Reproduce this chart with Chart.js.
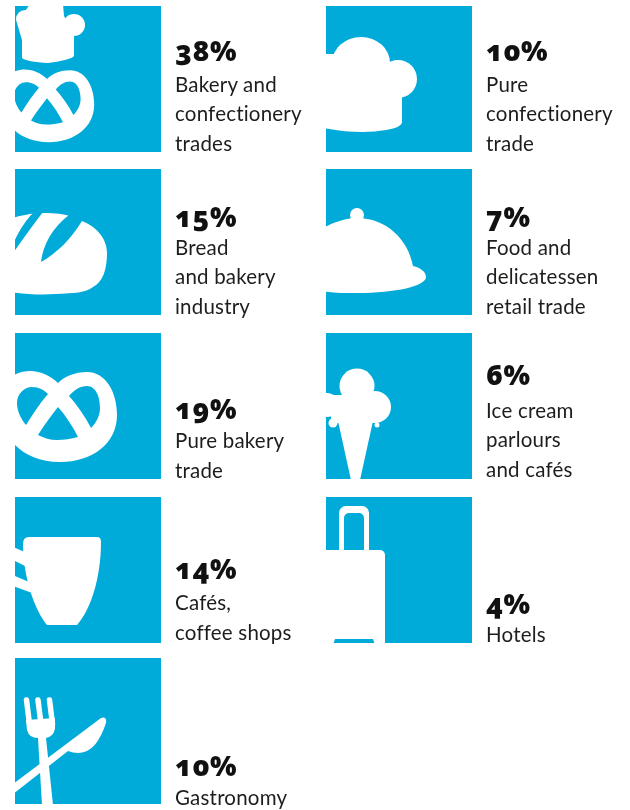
<!DOCTYPE html>
<html>
<head>
<meta charset="utf-8">
<title>Customer groups</title>
<script src="https://cdn.jsdelivr.net/npm/chart.js@4"></script>
<style>
  html, body { margin: 0; background: #fff; }
  #wrap { position: relative; width: 630px; height: 810px; overflow: hidden; }
  #chart { position: absolute; left: 0; top: 0; }
  .tile-label { position: absolute; color: #1d1d1b; font-family: Lato, sans-serif; font-size: 20.5px; line-height: 29.5px; white-space: nowrap; letter-spacing: .2px; }
  .tile-label .pct { position: relative; font-family: "Open Sans", sans-serif; font-weight: 800; font-size: 28px; line-height: 36px; color: #111; font-feature-settings: "onum"; letter-spacing: .5px; }
</style>
</head>
<body>
<div id="wrap"><canvas id="chart" width="630" height="810"></canvas></div>
<script>
const shares = [38, 15, 19, 14, 10, 10, 7, 6, 4];
const categories = [
  ["Bakery and", "confectionery", "trades"],
  ["Bread", "and bakery", "industry"],
  ["Pure bakery", "trade"],
  ["Cafés,", "coffee shops"],
  ["Gastronomy"],
  ["Pure", "confectionery", "trade"],
  ["Food and", "delicatessen", "retail trade"],
  ["Ice cream", "parlours", "and cafés"],
  ["Hotels"],
];
const tileCol = [0, 0, 0, 0, 0, 1, 1, 1, 1];
const tileRow = [0, 1, 2, 3, 4, 0, 1, 2, 3];
const iconNames = ["hatPretzel", "bread", "pretzel", "cup", "cutlery", "hat", "cloche", "icecream", "suitcase"];

const TILE = 146, BLUE = "#00abd9", WHITE = "#fff";
// the rows in the original are not quite evenly spaced (px)
const ROW_NUDGE = [0, 0, 1, 2, 0];
// small per-label offsets (px), the captions don't sit on one rule in the original
const LABEL_LIFT = [0, 0, 0, 2, -2, 0, 0, 1, 0];
const PCT_SHIFT = [-2, 1, 0, -2, 0, -2, 1, -4, 1];

function circle(c, x, y, r) { c.beginPath(); c.arc(x, y, r, 0, Math.PI * 2); c.fill(); }

function hat(c) {
  c.beginPath(); c.ellipse(35, 57, 29, 26, 0, 0, Math.PI * 2); c.fill();
  circle(c, 72, 73, 19);
  c.fill(new Path2D("M-3,48 L10,48 L60,60 L76,80 L76,117 Q74,122 60,124 Q34,129 -3,122 Z"));
}

function smallHat(c) {
  circle(c, 10, 13, 9);
  circle(c, 59, 19, 11);
  c.fill(new Path2D("M15,-2 L48,-2 L49,10 L59,28 L59,50 Q56,54 33,57 Q12,56 7,52 L7,34 L2,17 Z"));
}

const PRETZEL = "M-10,48 C0,40 8,38 15,38 C26,38 36,43 43,50 C50,43 60,39 72,39 C90,39 102,58 102,82 C102,110 78,129 45,129 C25,129 10,122 0,112 L-10,100 Z " +
  "M17,54 C24,54 29,57 33,61 C25,70 18,81 11,92 C6,86 2,78 2,70 C2,61 9,54 17,54 Z " +
  "M72,53 C81,53 85,64 85,75 C85,83 81,90 76,95 C70,83 62,72 54,63 C59,57 65,53 72,53 Z " +
  "M43,74 C51,83 58,94 63,104 C56,106 49,107 42,107 C35,107 29,105 23,102 C29,92 36,83 43,74 Z";

const icons = {
  hat,
  pretzel(c) { c.fill(new Path2D(PRETZEL), "evenodd"); },
  hatPretzel(c) {
    smallHat(c);
    c.save(); c.translate(-2.4, 33); c.scale(.8, .8); c.fill(new Path2D(PRETZEL), "evenodd"); c.restore();
  },
  bread(c) {
    c.fill(new Path2D("M-5,50 C5,46 20,44 28,44 C40,44 50,45 54,47 L67,52 C82,58 92,70 92,84 C92,100 88,113 78,118 C70,124 60,124 40,125 C25,126 10,125 -5,123 Z"));
    c.fillStyle = BLUE;
    c.fill(new Path2D("M54,46 C38,58 28,75 26,93 C42,84 56,70 67,52 L67,45 Z"));
    c.fill(new Path2D("M18,44 C10,52 4,62 -2,75 L-2,84 C8,70 18,56 28,43 Z"));
  },
  cloche(c) {
    circle(c, 31, 46, 7);
    c.fill(new Path2D("M-5,60 C8,53 20,49 31,49 C60,49 82,70 87,97 C95,99 100,103 100,108 C100,117 70,124 31,124 C18,124 8,124 -5,122 Z"));
  },
  icecream(c) {
    circle(c, 31, 53, 17.5);
    circle(c, 1, 72, 12);
    circle(c, 49, 74, 16);
    circle(c, 7, 90, 4.5);
    circle(c, 51, 92, 2.5);
    c.fillRect(5, 62, 45, 28);
    c.fill(new Path2D("M12,88 L47,88 L34,147 L25,147 Z"));
  },
  cup(c) {
    c.fill(new Path2D("M8,47 Q8,40 14,40 L82,40 Q86,40 86,45 C86,80 76,112 62,128 L32,128 C20,114 8,80 8,47 Z"));
    c.fill(new Path2D("M-2,50 L12,56 L12,70 L-2,63 Z"));
    c.fill(new Path2D("M-2,78 L14,85 L20,97 L-2,89 Z"));
  },
  cutlery(c) {
    // knife
    c.fill(new Path2D("M-2,126 L86,60 Q92,58 91,65 C86,80 78,95 63,95 Q58,95 53,93 L-2,136 Z"));
    // fork
    c.lineCap = "round";
    c.strokeStyle = WHITE;
    c.lineWidth = 5.5;
    for (const x of [11.5, 23, 34.5]) { c.beginPath(); c.moveTo(x, 42); c.lineTo(x + 3, 66); c.stroke(); }
    c.fill(new Path2D("M11,62 L40,60 L40,71 Q38,79 31,80 L38,147 L27,147 L23,80 Q14,80 12,72 Z"));
  },
  suitcase(c) {
    c.beginPath(); c.roundRect(13, 9, 30, 60, 7); c.roundRect(18, 16, 20, 50, 5); c.fill("evenodd");
    c.beginPath(); c.roundRect(-6, 53, 65, 100, 5); c.fill();
    c.fillStyle = BLUE;
    c.fill(new Path2D("M7,148 L9,142 L47,142 L49,148 Z"));
  },
};

function makeTile(name, size) {
  const cv = document.createElement("canvas");
  cv.width = cv.height = size;
  const c = cv.getContext("2d");
  c.fillStyle = BLUE; c.fillRect(0, 0, size, size);
  c.fillStyle = WHITE;
  icons[name](c);
  return cv;
}

const tiles = iconNames.map((n) => makeTile(n, TILE));

const chart = new Chart(document.getElementById("chart"), {
  type: "scatter",
  data: {
    datasets: [{
      data: tileCol.map((col, i) => ({ x: col, y: tileRow[i] + ROW_NUDGE[tileRow[i]] / 163 })),
      pointStyle: tiles,
      pointRadius: TILE / 2,
      pointHoverRadius: TILE / 2,
      clip: false,
    }],
  },
  options: {
    responsive: false,
    animation: false,
    events: [],
    layout: { padding: 0, autoPadding: false },
    plugins: { legend: { display: false }, tooltip: { enabled: false } },
    scales: {
      x: { display: false, min: -88 / 311, max: (630 - 88) / 311 },
      y: { display: false, reverse: true, min: -79 / 163, max: (810 - 79) / 163 },
    },
  },
});

const wrap = document.getElementById("wrap");
shares.forEach((v, i) => {
  const d = document.createElement("div");
  d.className = "tile-label";
  d.innerHTML = `<div class="pct" style="top:${PCT_SHIFT[i]}px">${v}%</div>` + categories[i].map((t) => `<div>${t}</div>`).join("");
  d.style.left = (chart.scales.x.getPixelForValue(tileCol[i]) + TILE / 2 + 14) + "px";
  const cy = chart.scales.y.getPixelForValue(tileRow[i] + ROW_NUDGE[tileRow[i]] / 163);
  d.style.bottom = (810 - (cy + TILE / 2 + 6) + LABEL_LIFT[i]) + "px";
  wrap.appendChild(d);
});
</script>
</body>
</html>
